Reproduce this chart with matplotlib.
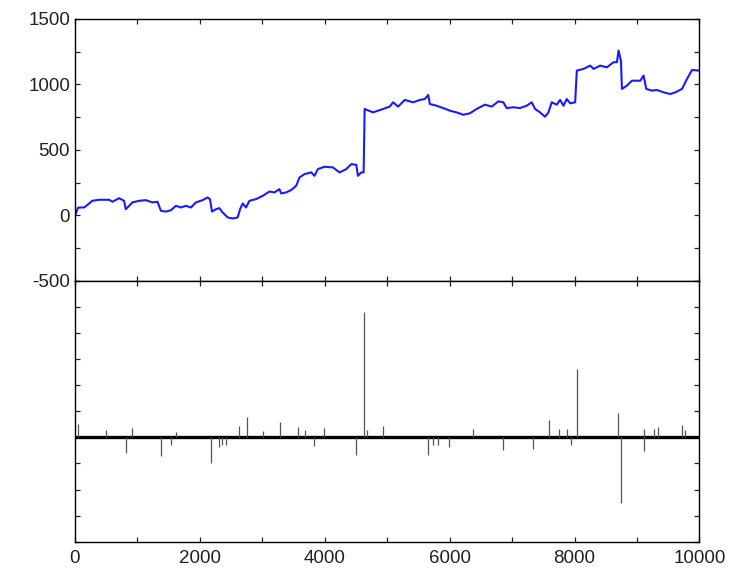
import numpy as np
import matplotlib
matplotlib.use('Agg')
import matplotlib.pyplot as plt
from matplotlib.ticker import MultipleLocator

plt.rcParams['font.family'] = ['Liberation Sans', 'DejaVu Sans']
plt.rcParams['axes.unicode_minus'] = False

# top panel: walk
walk_x = [0, 50, 150, 278, 385, 546, 600, 706, 786, 813, 867, 920, 1027, 1134, 1241,
          1321, 1375, 1455, 1535, 1616, 1696, 1776, 1856, 1937, 2044, 2124, 2161,
          2194, 2258, 2311, 2365, 2445, 2525, 2605, 2643, 2686, 2739, 2793, 2900,
          3007, 3114, 3194, 3274, 3301, 3381, 3461, 3542, 3595, 3675, 3782, 3836,
          3889, 3996, 4130, 4237, 4344, 4424, 4504, 4531, 4585, 4622, 4638, 4772,
          4853, 4933, 5040, 5094, 5174, 5281, 5415, 5522, 5602, 5656, 5682, 5789,
          5896, 6003, 6110, 6217, 6324, 6431, 6565, 6672, 6779, 6859, 6912, 7019,
          7126, 7233, 7313, 7367, 7447, 7527, 7581, 7634, 7715, 7768, 7822, 7875,
          7929, 8009, 8036, 8143, 8250, 8304, 8410, 8517, 8624, 8678, 8704, 8742,
          8758, 8838, 8918, 9052, 9105, 9148, 9239, 9319, 9426, 9533, 9613, 9720,
          9800, 9880, 9987]
walk_y = [0, 60, 62, 112, 120, 120, 105, 132, 112, 48, 74, 100, 112, 117, 100,
          105, 36, 30, 40, 74, 61, 74, 61, 100, 117, 138, 125,
          30, 48, 56, 23, -15, -23, -15, 48, 92, 61, 112, 125,
          150, 183, 176, 201, 168, 176, 194, 227, 290, 316, 329, 303,
          354, 372, 367, 329, 354, 392, 387, 303, 329, 329, 813, 787,
          800, 813, 831, 864, 831, 882, 864, 882, 889, 920, 851, 838,
          820, 800, 787, 769, 780, 813, 846, 831, 871, 864, 820, 826,
          820, 838, 864, 813, 787, 754, 787, 864, 846, 882, 838, 889,
          856, 864, 1106, 1119, 1144, 1119, 1144, 1131, 1170, 1170, 1259, 1182,
          966, 991, 1029, 1029, 1068, 966, 953, 958, 940, 927, 940, 966,
          1042, 1111, 1106]

# bottom panel: increments, only the spikes that stand out
spike_x = [48, 492, 813, 910, 1375, 1535, 1620, 2183, 2311, 2354, 2420, 2632, 2750,
           3007, 3285, 3575, 3690, 3830, 3990, 4505, 4622, 4680, 4933, 5656,
           5736, 5819, 5996, 6366, 6859, 7340, 7597, 7743, 7871, 7935, 8036,
           8694, 8747, 9105, 9110, 9266, 9330, 9720, 9763]
spike_y = [52, 27, -60, 36, -73, -28, 20, -98, -35, -28, -30, 45, 78,
           23, 61, 40, 29, -32, 35, -69, 480, 29, 45, -66,
           -31, -30, -35, 32, -47, -45, 65, 33, 33, -28, 262,
           93, -252, -54, 33, 33, 40, 46, 30]

fig = plt.figure(figsize=(7.36, 5.68), dpi=100)
ax1 = fig.add_axes([0.1019, 0.5053, 0.8485, 0.4613])
ax2 = fig.add_axes([0.1019, 0.0463, 0.8485, 0.459], sharex=ax1)

ax1.plot(walk_x, walk_y, color='#1a1aff', lw=1.5)
ax1.set_ylim(-500, 1500)
ax1.yaxis.set_major_locator(MultipleLocator(500))
ax1.yaxis.set_minor_locator(MultipleLocator(250))

ax2.axhline(0, color='black', lw=2.4)
ax2.vlines(spike_x, 0, spike_y, color='#555555', lw=0.9)
ax2.set_ylim(-400, 600)
ax2.yaxis.set_major_locator(MultipleLocator(100))
ax2.set_yticklabels([])

ax2.set_xlim(0, 10000)
ax2.xaxis.set_major_locator(MultipleLocator(2000))
ax2.xaxis.set_minor_locator(MultipleLocator(1000))

for ax in (ax1, ax2):
    ax.tick_params(which='both', direction='in', top=True, right=True,
                   length=3.5, width=0.9, labelsize=13.5, colors='#222222')
    for s in ax.spines.values():
        s.set_linewidth(1.0)
ax1.tick_params(labelbottom=False)
ax2.tick_params(labelleft=False)
ax2.tick_params(axis='x', pad=6)

plt.savefig('out.png')
